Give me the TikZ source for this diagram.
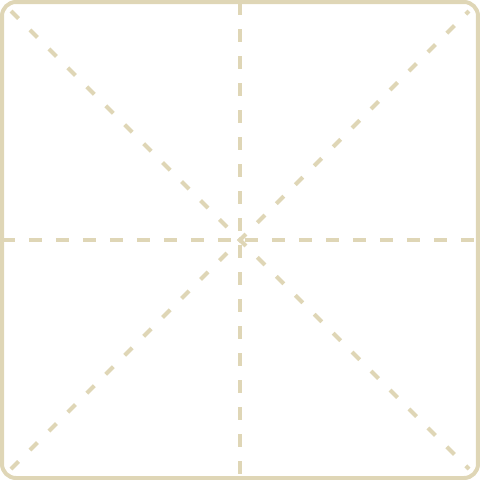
\documentclass[tikz,border=0pt]{standalone}
\usepackage{tikz}
\definecolor{beige}{HTML}{DFD6B6}
\tikzset{
  frame/.style={draw=beige, line width=3pt, rounded corners=10.5pt},
  ortho/.style={draw=beige, line width=3pt, dash pattern=on 10.1pt off 10.15pt},
  diag/.style={draw=beige, line width=3pt, dash pattern=on 8pt off 12.1pt}
}
\begin{document}
\begin{tikzpicture}[x=0.75pt,y=-0.75pt]
\useasboundingbox (0,0) rectangle (480,480);
\coordinate (T) at (240,2);
\coordinate (B) at (240,478);
\coordinate (L) at (2,240);
\coordinate (R) at (478,240);
\coordinate (TL) at (11,11);
\coordinate (BR) at (469,469);
\coordinate (BL) at (11,469);
\coordinate (TR) at (469,11);
\draw[ortho] (T) -- (B);
\draw[ortho] (L) -- (R);
\draw[diag] (TL) -- (BR);
\draw[diag] (BL) -- (TR);
\draw[frame] (2,2) rectangle (478,478);
\end{tikzpicture}
\end{document}
